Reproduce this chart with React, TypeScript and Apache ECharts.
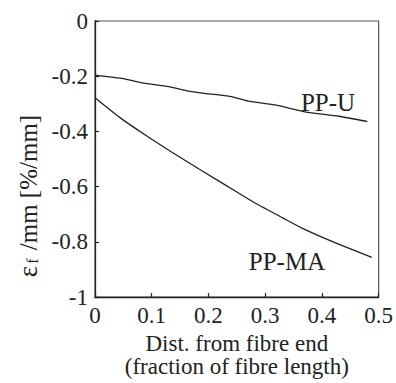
import React, { useEffect, useRef } from "react";
import * as echarts from "echarts";

const xTicks = [0, 0.1, 0.2, 0.3, 0.4, 0.5];
const yTicks = [0, -0.2, -0.4, -0.6, -0.8, -1];

const ppUX = [0, 0.05, 0.08, 0.13, 0.16, 0.19, 0.24, 0.27, 0.32, 0.37, 0.43, 0.48];
const ppUY = [-0.196, -0.209, -0.223, -0.238, -0.252, -0.261, -0.274, -0.29, -0.305, -0.329, -0.345, -0.364];

const ppMAX = [0, 0.044, 0.09, 0.13, 0.184, 0.253, 0.283, 0.33, 0.364, 0.42, 0.488];
const ppMAY = [-0.278, -0.35, -0.415, -0.468, -0.537, -0.623, -0.66, -0.712, -0.749, -0.8, -0.856];

const seriesNames = ["PP-U", "PP-MA"];
const FONT = "Liberation Serif";

export default function App() {
  const ref = useRef<HTMLDivElement>(null);
  useEffect(() => {
    if (!ref.current) return;
    const chart = echarts.init(ref.current, undefined, { renderer: "svg" });
    const axisCommon = {
      axisLine: { show: true, onZero: false, lineStyle: { color: "#222", width: 1.3 } },
      axisTick: { show: true, inside: true, length: 4, lineStyle: { color: "#222", width: 1.2 } },
      splitLine: { show: false },
    };
    chart.setOption({
      animation: false,
      backgroundColor: "#fff",
      grid: { left: 95, right: 15, top: 21, bottom: 72, show: true, borderColor: "#555", borderWidth: 1.2 },
      xAxis: {
        type: "value",
        min: 0,
        max: 0.5,
        interval: 0.1,
        ...axisCommon,
        axisLabel: {
          fontFamily: FONT,
          fontSize: 23,
          color: "#222",
          margin: 7,
          formatter: (v: number) => String(Number(v.toFixed(1))),
        },
        name: "Dist. from fibre end\n(fraction of fibre length)",
        nameLocation: "middle",
        nameGap: 30,
        nameTextStyle: { fontFamily: FONT, fontSize: 23, color: "#222", lineHeight: 23, verticalAlign: "top" },
      },
      yAxis: {
        type: "value",
        min: -1,
        max: 0,
        interval: 0.2,
        ...axisCommon,
        axisLabel: {
          fontFamily: FONT,
          fontSize: 23,
          color: "#222",
          margin: 7,
          formatter: (v: number) => String(Number(v.toFixed(1))),
        },
      },
      graphic: [
        {
          type: "text",
          x: 28,
          y: 196,
          rotation: Math.PI / 2,
          style: {
            text: "{a|ε}{b|f}{c| /mm [%/mm]}",
            align: "center",
            verticalAlign: "middle",
            fill: "#222",
            rich: {
              a: { fontFamily: FONT, fontSize: 27, lineHeight: 24, verticalAlign: "middle", fill: "#222" },
              b: { fontFamily: FONT, fontSize: 16, lineHeight: 12, verticalAlign: "bottom", fill: "#222", padding: [0, 2, 0, 2] },
              c: { fontFamily: FONT, fontSize: 25, lineHeight: 24, verticalAlign: "middle", fill: "#222" },
            },
          },
        },
        {
          type: "text",
          x: 328,
          y: 102,
          style: { text: seriesNames[0], fontFamily: FONT, fontSize: 25, fill: "#222", align: "center", verticalAlign: "middle" },
        },
        {
          type: "text",
          x: 287,
          y: 261,
          style: { text: seriesNames[1], fontFamily: FONT, fontSize: 25, fill: "#222", align: "center", verticalAlign: "middle" },
        },
      ],
      series: [
        {
          name: seriesNames[0],
          type: "line",
          data: ppUX.map((x, i) => [x, ppUY[i]]),
          showSymbol: false,
          smooth: 0.2,
          lineStyle: { color: "#222", width: 1.3 },
        },
        {
          name: seriesNames[1],
          type: "line",
          data: ppMAX.map((x, i) => [x, ppMAY[i]]),
          showSymbol: false,
          smooth: 0.2,
          lineStyle: { color: "#222", width: 1.3 },
        },
      ],
    });
    return () => chart.dispose();
  }, []);
  return <div ref={ref} style={{ width: 396, height: 383, position: "absolute", left: 0, top: 0 }} />;
}
